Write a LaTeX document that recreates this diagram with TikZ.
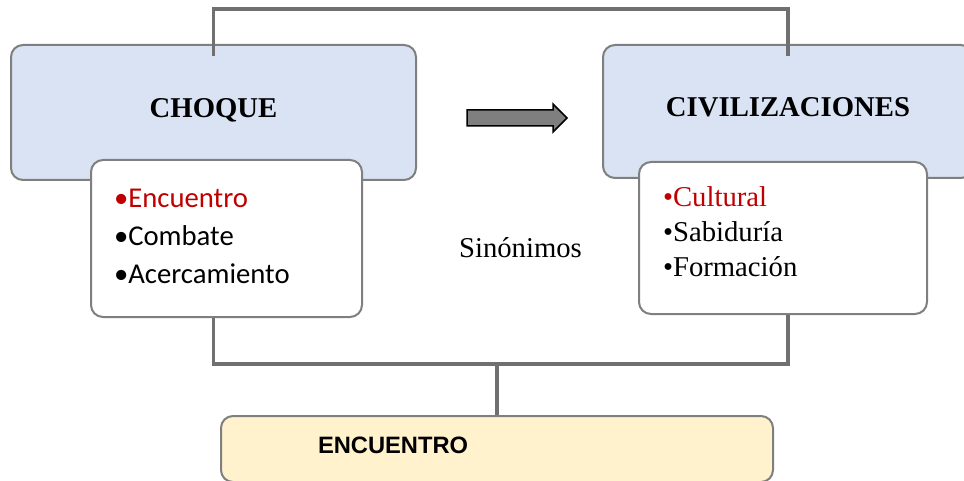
\documentclass[tikz,border=0pt]{standalone}
\usepackage{fontspec}
\setmainfont{Liberation Serif}
\newfontfamily\calibrifont{Carlito}
\newfontfamily\arialfont{Liberation Sans}
\usetikzlibrary{positioning, calc}
\definecolor{boxblue}{HTML}{DAE3F3}
\definecolor{boxgold}{HTML}{FFF2CC}
\definecolor{edgegray}{HTML}{7F7F7F}
\definecolor{linkgray}{HTML}{707070}
\definecolor{listred}{HTML}{C00000}

\begin{document}
\begin{tikzpicture}[
      x=1pt, y=-1pt,
      titlebox/.style={draw=edgegray, line width=2pt, rounded corners=12pt, fill=boxblue,
                       font=\fontsize{28.7}{34}\selectfont\bfseries,
                       text height=20pt, text depth=10pt},
      listbox/.style={draw=edgegray, line width=2pt, rounded corners=12pt, fill=white,
                      align=left, inner xsep=#1, text height=19pt, text depth=81pt},
      resultbox/.style={draw=edgegray, line width=2pt, rounded corners=12pt, fill=boxgold,
                        align=left, minimum height=66pt, text width=358pt, inner xsep=97pt,
                        font=\arialfont\bfseries\fontsize{23.7}{28}\selectfont, text depth=7pt},
      bracket/.style={draw=linkgray, line width=3.5pt},
    ]
    \useasboundingbox (0,0) rectangle (964,481);

    \node[titlebox, minimum width=405pt, minimum height=135pt] (choque) at (213.5, 112.5) {CHOQUE};
    \node[titlebox, minimum width=370pt, minimum height=133pt] (civ) at (788, 111.5) {CIVILIZACIONES};

    \node[listbox=23pt, text width=225pt, minimum height=157pt,
          font=\calibrifont\fontsize{28.7}{38}\selectfont] (choquelist) at (226.5, 238.5)
      {\textcolor{listred}{•Encuentro}\\•Combate\\•Acercamiento};
    \node[listbox=24pt, text width=240pt, minimum height=152pt,
          font=\fontsize{28.7}{35}\selectfont] (civlist) at (783, 238)
      {\textcolor{listred}{•Cultural}\\•Sabiduría\\•Formación};

    \node[font=\fontsize{28.7}{34}\selectfont, anchor=base] (sinon) at (520.5, 258) {Sinónimos};

    \node[resultbox] (encuentro) at (497, 449) {ENCUENTRO};

    \draw[fill=edgegray, line width=1.5pt, line join=miter]
      (467,110) -- (553,110) -- (553,104) -- (567,118) -- (553,132) -- (553,126) -- (467,126) -- cycle;

    \draw[bracket, shorten <=-12pt, shorten >=-12pt] (choque.north) -- ++(0,-35) -| (civ.north);
    \draw[bracket] (choque.north |- choquelist.south) -- ++(0,46) -| (civ.north |- civlist.south);
    \draw[bracket] (encuentro.north) -- ++(0,-53);
  \end{tikzpicture}
\end{document}
